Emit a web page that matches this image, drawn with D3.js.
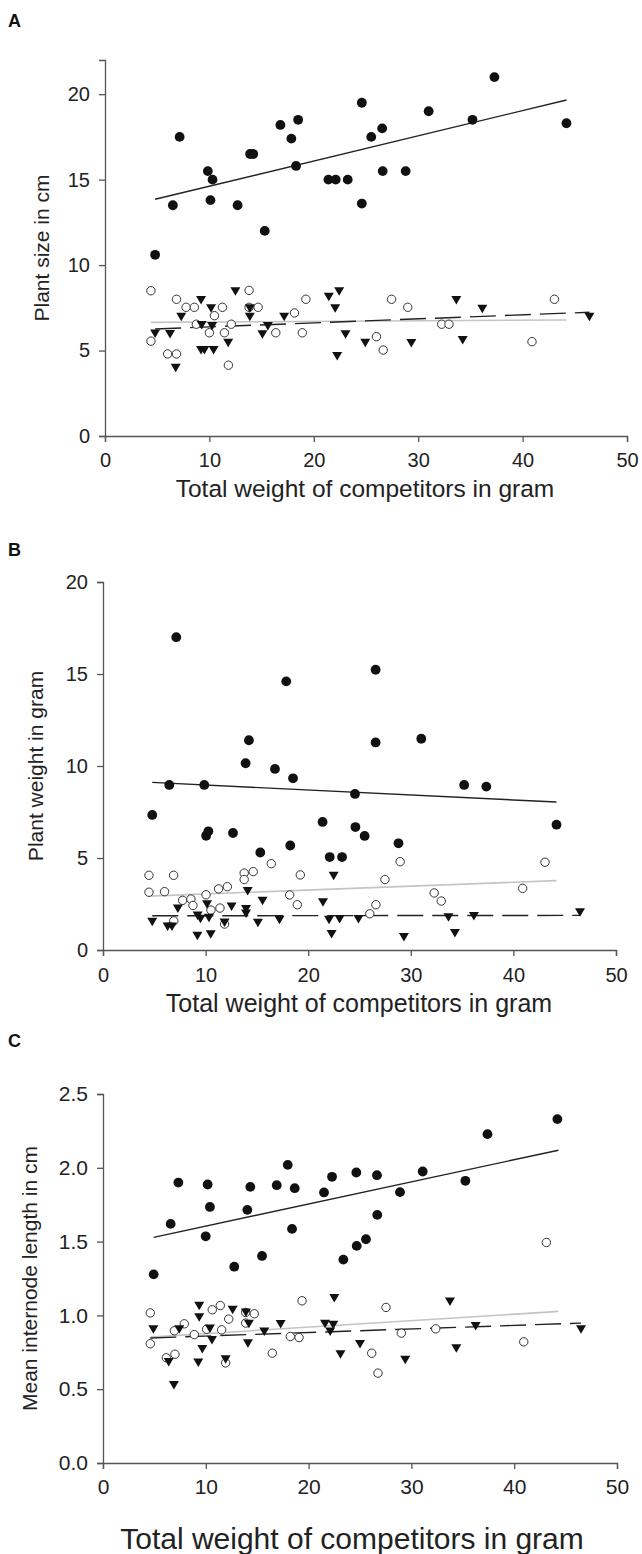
<!DOCTYPE html>
<html><head><meta charset="utf-8">
<script src="https://cdn.jsdelivr.net/npm/d3@7"></script>
<style>body{margin:0;background:#fff}svg{display:block;font-family:"Liberation Sans",Arial,sans-serif}</style>
</head><body><svg id="c" width="642" height="1554"></svg>
<script>
// ---- DATA (x = total weight of competitors in gram) ----
const xTicks = [0, 10, 20, 30, 40, 50];
const yTicksA = [0, 5, 10, 15, 20];
const yTicksB = [0, 5, 10, 15, 20];
const yTicksC = [0.0, 0.5, 1.0, 1.5, 2.0, 2.5];

// Panel A: plant size in cm
const aFilled = [[4.8,10.6],[6.5,13.5],[7.15,17.5],[9.85,15.5],[10.1,13.8],[10.3,15.0],[12.7,13.5],[13.9,16.5],[14.2,16.5],[15.3,12.0],[16.8,18.2],[17.85,17.4],[18.3,15.8],[18.5,18.5],[21.4,15.0],[22.1,15.0],[23.25,15.0],[24.6,19.5],[24.6,13.6],[25.5,17.5],[26.55,18.0],[26.6,15.5],[28.8,15.5],[31.0,19.0],[35.2,18.5],[37.3,21.0],[44.2,18.3]];
const aOpen = [[4.4,8.5],[4.4,5.55],[6.0,4.8],[6.85,8.0],[6.85,4.8],[7.77,7.53],[8.56,7.53],[8.75,6.54],[10.0,6.04],[10.48,7.04],[11.25,7.53],[11.44,6.04],[11.82,4.14],[12.1,6.54],[13.8,8.52],[13.8,7.53],[14.67,7.53],[16.36,6.04],[18.15,7.2],[18.9,6.04],[19.24,8.0],[26.0,5.81],[26.65,5.03],[27.45,8.0],[29.0,7.53],[32.25,6.54],[32.95,6.54],[40.9,5.52],[43.05,8.0]];
const aTri = [[4.8,6.0],[6.23,5.97],[6.77,4.0],[7.3,6.98],[9.2,7.96],[9.26,6.5],[9.2,5.03],[9.52,5.03],[10.16,7.47],[10.26,6.44],[10.4,5.03],[11.8,5.46],[12.49,8.47],[13.87,7.47],[13.87,6.98],[15.08,5.95],[15.6,6.44],[17.16,6.98],[21.44,8.15],[22.43,8.47],[22.05,7.47],[22.24,4.68],[23.04,5.95],[24.93,5.46],[29.34,5.44],[33.65,7.96],[34.26,5.62],[36.14,7.45],[46.4,6.98]];
const aLineFilled = [4.8, 13.85, 44.2, 19.66];
const aLineOpen = [4.4, 6.65, 44.2, 6.79];
const aLineTri = [4.8, 6.26, 46.4, 7.24];

// Panel B: plant weight in gram
const bFilled = [[4.8,7.34],[6.46,8.97],[7.14,17.0],[9.87,8.97],[10.05,6.21],[10.27,6.45],[12.67,6.36],[13.9,10.15],[14.22,11.4],[15.33,5.3],[16.76,9.84],[17.86,14.6],[18.25,5.68],[18.52,9.33],[21.4,6.96],[22.1,5.05],[23.3,5.05],[24.56,8.48],[24.6,6.68],[25.5,6.2],[26.57,15.23],[26.57,11.28],[28.8,5.8],[31.02,11.48],[35.2,8.97],[37.36,8.88],[44.2,6.81]];
const bOpen = [[4.48,4.06],[4.48,3.14],[6.0,3.17],[6.88,4.06],[6.9,1.58],[7.76,2.7],[8.57,2.77],[8.77,2.42],[10.04,3.0],[10.52,2.17],[11.27,3.32],[11.4,2.28],[11.85,1.41],[12.12,3.44],[13.76,4.18],[13.76,3.83],[14.64,4.26],[16.4,4.69],[18.19,2.99],[18.94,2.46],[19.23,4.08],[26.0,1.97],[26.6,2.46],[27.48,3.83],[28.96,4.8],[32.28,3.1],[32.97,2.66],[40.9,3.35],[43.08,4.77]];
const bTri = [[4.8,1.54],[6.3,1.28],[6.72,1.28],[7.3,2.26],[9.22,1.87],[9.5,1.7],[9.2,0.78],[10.14,2.48],[10.33,1.75],[10.5,0.85],[11.85,1.5],[12.53,2.37],[13.94,2.23],[13.94,1.99],[14.1,3.2],[15.1,1.48],[15.55,2.68],[17.2,1.65],[21.44,2.59],[22.48,4.04],[22.03,1.65],[22.28,0.87],[23.06,1.68],[24.9,1.68],[29.33,0.71],[33.67,1.78],[34.3,0.92],[36.15,1.85],[46.49,2.05]];
const bLineFilled = [4.8, 9.11, 44.2, 8.04];
const bLineOpen = [4.48, 2.93, 44.2, 3.77];
const bLineTri = [4.8, 1.86, 46.5, 1.88];

// Panel C: mean internode length in cm
const cFilled = [[4.93,1.278],[6.58,1.62],[7.33,1.90],[9.99,1.536],[10.18,1.887],[10.4,1.735],[12.77,1.33],[14.04,1.715],[14.33,1.871],[15.47,1.403],[16.9,1.882],[17.97,2.02],[18.39,1.586],[18.65,1.862],[21.5,1.833],[22.28,1.939],[23.38,1.378],[24.64,1.968],[24.68,1.471],[25.58,1.516],[26.65,1.95],[26.68,1.681],[28.89,1.835],[31.1,1.975],[35.25,1.912],[37.4,2.228],[44.2,2.33]];
const cOpen = [[4.6,1.017],[4.6,0.808],[6.16,0.713],[6.94,0.896],[7.0,0.737],[7.91,0.943],[8.88,0.87],[10.08,0.906],[10.63,1.038],[11.41,1.067],[11.54,0.902],[11.93,0.678],[12.23,0.975],[13.88,1.02],[13.88,0.948],[14.72,1.011],[16.47,0.744],[18.22,0.857],[19.07,0.85],[19.36,1.099],[26.14,0.744],[26.75,0.609],[27.53,1.054],[29.02,0.88],[32.37,0.909],[40.93,0.821],[43.13,1.494]];
const cTri = [[4.9,0.907],[6.39,0.685],[6.9,0.529],[7.42,0.907],[9.36,1.065],[9.36,0.988],[9.27,0.681],[9.66,0.772],[10.4,0.911],[10.6,0.834],[11.93,0.703],[12.61,1.038],[13.9,1.02],[14.19,0.943],[14.1,0.812],[15.69,0.891],[17.28,0.941],[21.6,0.943],[22.1,0.891],[22.4,0.936],[22.5,1.118],[23.1,0.737],[25.0,0.807],[29.4,0.699],[33.75,1.094],[34.37,0.777],[36.25,0.929],[46.5,0.907]];
const cLineFilled = [4.93, 1.529, 44.3, 2.119];
const cLineOpen = [4.6, 0.853, 44.3, 1.027];
const cLineTri = [4.6, 0.847, 46.5, 0.948];

const xTitle = "Total weight of competitors in gram";

// ---- LAYOUT ----
const panels = [
  {label:"A", yTitle:"Plant size in cm", yMax:22, yTicks:yTicksA, fmt:d3.format("d"),
   left:105, right:627, top:60, bottom:436, labelY:27, yTitleX:42, tickFs:20, tickPad:11,
   xtX:365, xtY:497, xtFs:24.5,
   filled:aFilled, open:aOpen, tri:aTri, lf:aLineFilled, lo:aLineOpen, lt:aLineTri},
  {label:"B", yTitle:"Plant weight in gram", yMax:20, yTicks:yTicksB, fmt:d3.format("d"),
   left:103, right:616, top:582, bottom:950, labelY:556, yTitleX:36, tickFs:20, tickPad:12,
   xtX:359, xtY:1012, xtFs:25,
   filled:bFilled, open:bOpen, tri:bTri, lf:bLineFilled, lo:bLineOpen, lt:bLineTri},
  {label:"C", yTitle:"Mean internode length in cm", yMax:2.5, yTicks:yTicksC, fmt:d3.format(".1f"),
   left:103, right:617, top:1094, bottom:1463, labelY:1047, yTitleX:30, tickFs:21, tickPad:10,
   xtX:352, xtY:1549, xtFs:30,
   filled:cFilled, open:cOpen, tri:cTri, lf:cLineFilled, lo:cLineOpen, lt:cLineTri}
];

const svg = d3.select("#c");
const triPath = "M-5,-4L5,-4L0,4.5Z";

panels.forEach(p => {
  const x = d3.scaleLinear().domain([0, 50]).range([p.left, p.right]);
  const y = d3.scaleLinear().domain([0, p.yMax]).range([p.bottom, p.top]);
  const g = svg.append("g");

  // axes
  const xa = g.append("g").attr("transform", `translate(0,${p.bottom})`)
    .call(d3.axisBottom(x).tickValues(xTicks).tickSize(6).tickPadding(p.tickPad).tickFormat(d3.format("d")));
  const ya = g.append("g").attr("transform", `translate(${p.left},0)`)
    .call(d3.axisLeft(y).tickValues(p.yTicks).tickSize(6).tickPadding(9).tickFormat(p.fmt));
  [xa, ya].forEach(a => {
    a.select(".domain").attr("stroke", "#555").attr("stroke-width", 1.3);
    a.selectAll(".tick line").attr("stroke", "#555").attr("stroke-width", 1.3);
    a.selectAll("text").attr("fill", "#222").style("font-size", p.tickFs + "px")
      .style("font-family", '"Liberation Sans", Arial, sans-serif');
  });

  // titles
  g.append("text").attr("x", p.xtX).attr("y", p.xtY)
    .attr("text-anchor", "middle").attr("fill", "#222").style("font-size", p.xtFs + "px").text(xTitle);
  g.append("text").attr("transform", `translate(${p.yTitleX},${(p.top + p.bottom) / 2}) rotate(-90)`)
    .attr("text-anchor", "middle").attr("dy", "0.35em").attr("fill", "#222").style("font-size", "21px").text(p.yTitle);
  g.append("text").attr("x", 8).attr("y", p.labelY).attr("fill", "#111")
    .style("font-size", "18px").style("font-weight", "bold").text(p.label);

  // trend lines
  const seg = (l, stroke, w, dash) => g.append("line")
    .attr("x1", x(l[0])).attr("y1", y(l[1])).attr("x2", x(l[2])).attr("y2", y(l[3]))
    .attr("stroke", stroke).attr("stroke-width", w).attr("stroke-dasharray", dash);
  seg(p.lo, "#c4c4c4", 1.6, null);
  seg(p.lt, "#222", 1.4, "26,9");
  seg(p.lf, "#222", 1.4, null);

  // markers
  g.append("g").selectAll("circle").data(p.open).join("circle")
    .attr("cx", d => x(d[0])).attr("cy", d => y(d[1])).attr("r", 4.2)
    .attr("fill", "#fff").attr("stroke", "#333").attr("stroke-width", 1);
  g.append("g").selectAll("path").data(p.tri).join("path")
    .attr("d", triPath).attr("transform", d => `translate(${x(d[0])},${y(d[1])})`)
    .attr("fill", "#111");
  g.append("g").selectAll("circle").data(p.filled).join("circle")
    .attr("cx", d => x(d[0])).attr("cy", d => y(d[1])).attr("r", 4.9)
    .attr("fill", "#111");
});
</script></body></html>
